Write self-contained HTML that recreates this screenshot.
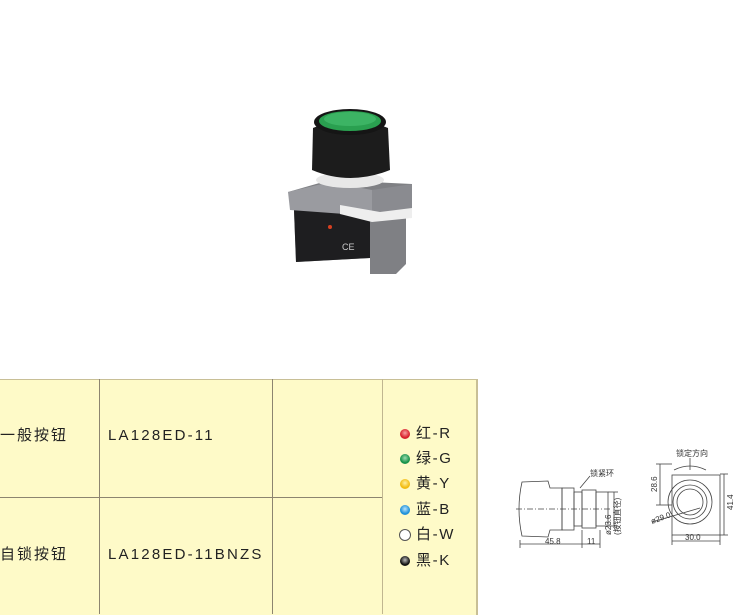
<!DOCTYPE html>
<html><head><meta charset="utf-8"><style>
body{margin:0;width:756px;height:614px;background:#fff;position:relative;overflow:hidden;font-family:"Liberation Sans","Noto Sans CJK SC",sans-serif;color:#222}
.t{position:absolute;font-size:15px;white-space:nowrap;line-height:18px}
.m{letter-spacing:2.2px}
.c{letter-spacing:1.6px}
.dot{position:absolute;width:10px;height:10px;border-radius:50%}
</style></head><body>
<div style="position:absolute;left:0;top:379px;width:476px;height:235px;background:#fefac8;border-top:1px solid #c8bf96;border-right:2px solid #c8bf96"></div>
<div style="position:absolute;left:99px;top:379px;width:1px;height:235px;background:#8c8470"></div>
<div style="position:absolute;left:272px;top:379px;width:1px;height:235px;background:#8c8470"></div>
<div style="position:absolute;left:382px;top:379px;width:1px;height:235px;background:#c0b690"></div>
<div style="position:absolute;left:0;top:497px;width:382px;height:1px;background:#8c8470"></div>
<div class="t" style="left:0;top:427px;letter-spacing:2px">一般按钮</div>
<div class="t" style="left:0;top:546px;letter-spacing:2px">自锁按钮</div>
<div class="t m" style="left:108px;top:427px">LA128ED-11</div>
<div class="t m" style="left:108px;top:546px">LA128ED-11BNZS</div>
<div class="dot" style="left:400px;top:429px;background:radial-gradient(circle at 50% 40%,#f8a0a0,#d8202a 60%)"></div>
<div class="dot" style="left:400px;top:454px;background:radial-gradient(circle at 50% 40%,#9fdcb0,#16924a 60%)"></div>
<div class="dot" style="left:400px;top:479px;background:radial-gradient(circle at 50% 40%,#fff1a0,#f2bb10 60%)"></div>
<div class="dot" style="left:400px;top:505px;background:radial-gradient(circle at 50% 40%,#b8e4ff,#1e90d8 60%)"></div>
<div class="dot" style="left:399px;top:529px;width:10px;height:10px;border:1px solid #555;background:#fff"></div>
<div class="dot" style="left:400px;top:556px;background:radial-gradient(circle at 50% 40%,#bbb,#111 60%)"></div>
<div class="t c" style="left:416px;top:425px">红-R</div>
<div class="t c" style="left:416px;top:450px">绿-G</div>
<div class="t c" style="left:416px;top:475px">黄-Y</div>
<div class="t c" style="left:416px;top:501px">蓝-B</div>
<div class="t c" style="left:416px;top:526px">白-W</div>
<div class="t c" style="left:416px;top:552px">黑-K</div>

<svg style="position:absolute;left:0;top:0" width="756" height="614">
 <path d="M288 192 L330 180 L412 184 L412 212 L406 218 L406 264 L396 274 L370 274 L370 258 L296 262 L294 210 Z" fill="#7f8084"/>
 <path d="M294 210 L370 214 L370 258 L296 262 Z" fill="#1e1e20"/>
 <path d="M288 192 L330 182 L372 190 L372 216 L290 210 Z" fill="#9a9ba0"/>
 <path d="M372 190 L412 184 L412 212 L372 218 Z" fill="#8a8b90"/>
 <path d="M340 205 L380 212 L412 208 L412 218 L372 222 L340 214 Z" fill="#eeeeee"/>
 <ellipse cx="350" cy="180" rx="34" ry="8" fill="#e8e8e8"/>
 <path d="M313 128 Q350 112 388 128 L390 170 Q350 186 312 170 Z" fill="#1c1c1c"/>
 <ellipse cx="350" cy="122" rx="36" ry="13" fill="#151515"/>
 <ellipse cx="350" cy="121" rx="31" ry="10" fill="#2aa050"/>
 <ellipse cx="350" cy="119" rx="26" ry="7" fill="#3cb464"/>
 <circle cx="330" cy="227" r="2" fill="#d84020"/>
 <text x="342" y="250" font-size="9" fill="#ccc" font-family="Liberation Sans">CE</text>
 <g stroke="#444" stroke-width="0.8" fill="none">
  <path d="M522 482 L548 481 L550 488 L562 488 L562 530 L550 530 L548 537 L522 536 Q516 509 522 482Z"/>
  <rect x="562" y="488" width="12" height="42"/>
  <rect x="574" y="492" width="8" height="34"/>
  <rect x="582" y="490" width="14" height="38"/>
  <rect x="596" y="492" width="12" height="34"/>
  <line x1="516" y1="509" x2="612" y2="509" stroke-dasharray="6 2 1 2"/>
  <line x1="520" y1="540" x2="520" y2="548"/><line x1="520" y1="544" x2="582" y2="544"/>
  <line x1="582" y1="530" x2="582" y2="548"/><line x1="582" y1="544" x2="600" y2="544"/><line x1="600" y1="530" x2="600" y2="548"/>
  <line x1="608" y1="492" x2="618" y2="492"/><line x1="608" y1="526" x2="618" y2="526"/><line x1="614" y1="492" x2="614" y2="526"/>
  <line x1="580" y1="488" x2="590" y2="476"/>
  <rect x="672" y="475" width="48" height="60"/>
  <circle cx="690" cy="502" r="22"/><circle cx="690" cy="502" r="17"/><circle cx="690" cy="502" r="13"/>
  <path d="M674 470 Q690 462 706 470"/>
  <line x1="656" y1="464" x2="672" y2="464"/><line x1="660" y1="464" x2="660" y2="505"/><line x1="656" y1="505" x2="672" y2="505"/>
  <line x1="720" y1="474" x2="728" y2="474"/><line x1="724" y1="474" x2="724" y2="535"/><line x1="720" y1="535" x2="728" y2="535"/>
  <line x1="672" y1="535" x2="672" y2="545"/><line x1="720" y1="535" x2="720" y2="545"/><line x1="672" y1="541" x2="720" y2="541"/>
  <line x1="652" y1="522" x2="700" y2="508"/>
  <line x1="690" y1="458" x2="690" y2="470"/>
 </g>
 <g font-family="Liberation Sans,Noto Sans CJK SC,sans-serif" font-size="8" fill="#333">
  <text x="590" y="476">锁紧环</text>
  <text x="545" y="544">45.8</text>
  <text x="587" y="544">11</text>
  <text x="611" y="535" transform="rotate(-90 611 535)">ø23.6</text>
  <text x="620" y="535" transform="rotate(-90 620 535)">(按钮直径)</text>
  <text x="676" y="456">锁定方向</text>
  <text x="657" y="492" transform="rotate(-90 657 492)">28.6</text>
  <text x="733" y="510" transform="rotate(-90 733 510)">41.4</text>
  <text x="685" y="540">30.0</text>
  <text x="652" y="524" transform="rotate(-20 652 524)">ø29.0</text>
 </g>
</svg>
</body></html>
